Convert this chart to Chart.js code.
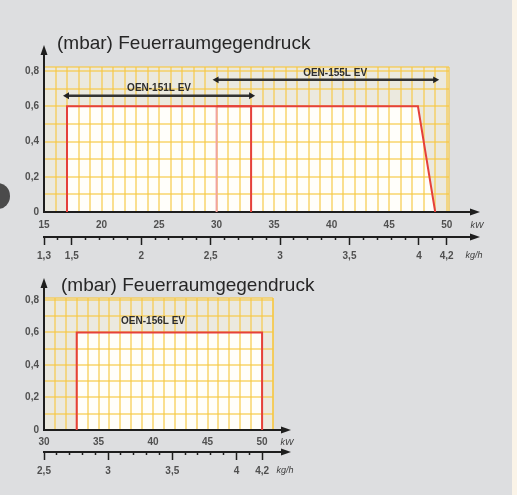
<!DOCTYPE html>
<html>
<head>
<meta charset="utf-8">
<script src="https://cdn.jsdelivr.net/npm/chart.js@4/dist/chart.umd.min.js"></script>
<style>
body { margin: 0; width: 517px; height: 495px; overflow: hidden; position: relative; background: #dddee0; font-family: "Liberation Sans", Arial, sans-serif; }
.title { position: absolute; font-size: 19px; line-height: 22px; color: #262626; white-space: nowrap; }
.area { position: absolute; background: #ebe9df; }
canvas { position: absolute; left: 0; }
#stripe { position: absolute; right: 0; top: 0; width: 5px; height: 495px; background: #fbf4e8; }
#dot { position: absolute; left: -14px; top: 183px; width: 24px; height: 26px; border-radius: 50%; background: #4b4b4b; }
</style>
</head>
<body>
<div id="stripe"></div>
<div id="dot"></div>
<div class="area" id="area1"></div>
<div class="area" id="area2"></div>
<canvas id="c1" width="517" height="265" style="top:0;width:517px;height:265px"></canvas>
<canvas id="c2" width="517" height="230" style="top:265px;width:517px;height:230px"></canvas>
<div class="title" style="left:57px;top:32px">(mbar) Feuerraumgegendruck</div>
<div class="title" style="left:61px;top:274px">(mbar) Feuerraumgegendruck</div>
<script>
// top chart: OEN-151L EV / OEN-155L EV
const kwLabels1 = [15, 20, 25, 30, 35, 40, 45, 50];
const kgLabels1 = [1.3, 1.5, 2, 2.5, 3, 3.5, 4, 4.2];
const oen151Kw = [17, 17, 33, 33];
const oen151Mbar = [0, 0.6, 0.6, 0];
const oen155Kw = [30, 30, 47.5, 49];
const oen155Mbar = [0, 0.6, 0.6, 0];
const rangeNames1 = ["OEN-151L EV", "OEN-155L EV"];
const rangeFrom1 = [17, 30];
const rangeTo1 = [33, 49];
const rangeMbar1 = [0.66, 0.75];
const nameKw1 = [25, 40.3];
const nameMbar1 = [0.70, 0.79];

// bottom chart: OEN-156L EV
const kwLabels2 = [30, 35, 40, 45, 50];
const kgLabels2 = [2.5, 3, 3.5, 4, 4.2];
const oen156Kw = [33, 33, 50, 50];
const oen156Mbar = [0, 0.6, 0.6, 0];
const rangeNames2 = ["OEN-156L EV"];
const nameKw2 = [40];
const nameMbar2 = [0.67];

const mbarLabels = [0, 0.2, 0.4, 0.6, 0.8];

const RED = "#e5403b";
const PINK = "#f1a3a0";
const GRID = "rgba(247,200,66,0.58)";
const INK = "#1e1e1e";
const tickFont = { family: "'Liberation Sans', Arial, sans-serif", size: 10, weight: "bold" };

function has(list, v) { return list.some(a => Math.abs(a - v) < 1e-6); }
function fmt(v) { return String(v).replace(".", ","); }
function pts(xs, ys) { return xs.map((x, i) => ({ x: x, y: ys[i] })); }

function stepTicks(from, to, step, extra) {
    let t = [];
    let n = Math.round((to - from) / step);
    for (let i = 0; i <= n; i++) t.push({ value: +(from + i * step).toFixed(2) });
    if (extra !== undefined) t.push({ value: extra });
    return t;
}

const decor = {
    id: "decor",
    afterDatasetsDraw(chart, args, o) {
        let c = chart.ctx;
        c.save();
        c.font = "bold 10px 'Liberation Sans', Arial, sans-serif";
        c.fillStyle = "#2e2e2e";
        c.textAlign = "center";
        c.textBaseline = "middle";
        o.names.forEach((n, i) => {
            c.fillText(n, chart.scales.x.getPixelForValue(o.nameKw[i]), chart.scales.y.getPixelForValue(o.nameMbar[i]));
        });
        c.restore();
    },
    afterDraw(chart, args, o) {
        let c = chart.ctx, a = chart.chartArea, x2 = chart.scales.x2;
        c.save();
        c.strokeStyle = INK;
        c.fillStyle = INK;
        c.lineWidth = 2;
        let tip = a.right + o.ext;
        [a.bottom, x2.top].forEach(y => {
            c.beginPath(); c.moveTo(a.right - 1, y); c.lineTo(tip - 6, y); c.stroke();
            c.beginPath(); c.moveTo(tip, y); c.lineTo(tip - 10, y - 3.5); c.lineTo(tip - 10, y + 3.5); c.closePath(); c.fill();
        });
        let top = a.top - o.extY;
        c.beginPath(); c.moveTo(a.left, a.top + 1); c.lineTo(a.left, top + 6); c.stroke();
        c.beginPath(); c.moveTo(a.left, top); c.lineTo(a.left - 3.5, top + 10); c.lineTo(a.left + 3.5, top + 10); c.closePath(); c.fill();
        c.font = "italic 9px 'Liberation Sans', Arial, sans-serif";
        c.fillStyle = "#3c3c3c";
        c.textAlign = "center";
        c.textBaseline = "middle";
        c.fillText("kW", a.right + o.unitKw, a.bottom + o.unitKwY);
        c.fillText("kg/h", a.right + o.unitKg, x2.top + o.unitKgY);
        c.restore();
    }
};

function makeChart(id, areaId, topPx, s) {
    let kw0 = s.kw[0], kw1 = s.kw[s.kw.length - 1];
    let kg0 = s.kg[0], kg1 = s.kg[s.kg.length - 1];
    let kgMax = kg0 + (s.xMax - kw0) * (kg1 - kg0) / (kw1 - kw0);

    let sets = s.shapes.map(sh => ({
        data: pts(sh.kw, sh.mbar),
        borderColor: RED,
        borderWidth: 2,
        backgroundColor: "#fffefa",
        fill: "origin",
        pointRadius: 0,
        segment: { borderColor: ctx => (sh.pinkStart && ctx.p0DataIndex === 0 ? PINK : RED) }
    }));
    (s.arrows || []).forEach(ar => sets.push({
        data: [{ x: ar.from, y: ar.mbar }, { x: ar.to, y: ar.mbar }],
        borderColor: "#333",
        borderWidth: 2.5,
        fill: false,
        pointStyle: "triangle",
        pointRadius: 4,
        pointRotation: [-90, 90],
        pointBackgroundColor: "#222",
        pointBorderWidth: 0
    }));

    let chart = new Chart(document.getElementById(id), {
        type: "line",
        data: { datasets: sets },
        options: {
            responsive: false,
            animation: false,
            events: [],
            layout: { padding: { top: s.padTop, right: s.padRight, left: 0, bottom: 0 } },
            plugins: {
                legend: { display: false },
                tooltip: { enabled: false },
                filler: { drawTime: "beforeDraw" },
                decor: s.decor
            },
            scales: {
                x: {
                    type: "linear", position: "bottom", min: kw0, max: s.xMax,
                    afterBuildTicks: sc => { sc.ticks = stepTicks(kw0, Math.floor(s.xMax), 1, s.xMax); },
                    afterFit: sc => { sc.height = s.xH; },
                    ticks: { autoSkip: false, maxRotation: 0, padding: s.xPad, color: "#505050", font: tickFont,
                        callback: v => (has(s.kw, v) ? fmt(v) : "") },
                    grid: { drawTicks: false, lineWidth: 2, color: ctx => (ctx.tick && ctx.tick.value === kw0 ? "transparent" : GRID) },
                    border: { display: true, color: INK, width: 2 }
                },
                x2: {
                    type: "linear", position: "bottom", min: kg0, max: kgMax,
                    afterBuildTicks: sc => { sc.ticks = stepTicks(kg0, kg1, 0.1); },
                    afterFit: sc => { sc.height = s.x2H; },
                    ticks: { autoSkip: false, maxRotation: 0, padding: 5, color: "#505050", font: tickFont,
                        callback: v => (has(s.kg, v) ? fmt(v) : "") },
                    grid: {
                        drawOnChartArea: false, drawTicks: true, tickLength: 8,
                        tickColor: INK, tickWidth: 1.5,
                        tickBorderDash: ctx => (ctx.tick && has(s.kg, ctx.tick.value) ? [] : [2, 20])
                    },
                    border: { display: true, color: INK, width: 2 }
                },
                y: {
                    type: "linear", min: 0, max: s.yMax,
                    afterBuildTicks: sc => { sc.ticks = stepTicks(0, 0.8, 0.1, s.yMax); },
                    afterFit: sc => { sc.width = 44; },
                    ticks: { autoSkip: false, padding: 5, color: "#505050", font: tickFont,
                        callback: v => (has(mbarLabels, v) ? fmt(v) : "") },
                    grid: { drawTicks: false, lineWidth: 2, color: ctx => (ctx.tick && ctx.tick.value === 0 ? "transparent" : GRID) },
                    border: { display: true, color: INK, width: 2 }
                }
            }
        },
        plugins: [decor]
    });

    let a = chart.chartArea, bg = document.getElementById(areaId).style;
    bg.left = a.left + "px";
    bg.top = (topPx + a.top) + "px";
    bg.width = (a.right - a.left) + "px";
    bg.height = (a.bottom - a.top) + "px";
    return chart;
}

makeChart("c1", "area1", 0, {
    kw: kwLabels1, kg: kgLabels1, xMax: 50.2, yMax: 0.823,
    padTop: 67, padRight: 68, xH: 25, x2H: 28, xPad: 7,
    shapes: [
        { kw: oen151Kw, mbar: oen151Mbar },
        { kw: oen155Kw, mbar: oen155Mbar, pinkStart: true }
    ],
    arrows: rangeNames1.map((n, i) => ({ from: rangeFrom1[i], to: rangeTo1[i], mbar: rangeMbar1[i] })),
    decor: { names: rangeNames1, nameKw: nameKw1, nameMbar: nameMbar1,
        ext: 31, extY: 22, unitKw: 28, unitKwY: 13, unitKg: 25, unitKgY: 18 }
});

makeChart("c2", "area2", 265, {
    kw: kwLabels2, kg: kgLabels2, xMax: 51, yMax: 0.812,
    padTop: 33, padRight: 244, xH: 22, x2H: 43, xPad: 6,
    shapes: [{ kw: oen156Kw, mbar: oen156Mbar }],
    decor: { names: rangeNames2, nameKw: nameKw2, nameMbar: nameMbar2,
        ext: 18, extY: 20, unitKw: 14, unitKwY: 12, unitKg: 12, unitKgY: 18 }
});
</script>
</body>
</html>
